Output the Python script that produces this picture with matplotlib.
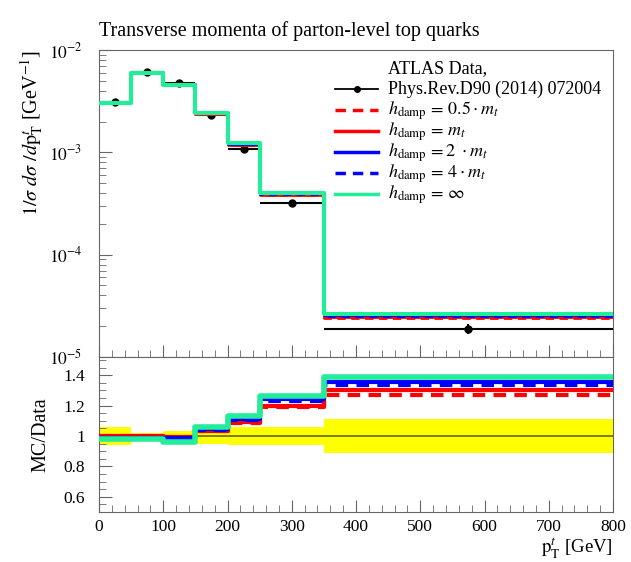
import numpy as np
import matplotlib
matplotlib.use('Agg')
import matplotlib.pyplot as plt
from matplotlib.ticker import MultipleLocator, LogLocator, FuncFormatter, NullFormatter, FixedLocator
from matplotlib.lines import Line2D
from matplotlib.transforms import offset_copy

# ---------------- data ----------------
edges = [0, 50, 100, 150, 200, 250, 350, 800]
data = [3.12e-3, 6.05e-3, 4.72e-3, 2.3e-3, 1.08e-3, 3.2e-4, 1.88e-5]
data_relerr = [0.06, 0.02, 0.036, 0.05, 0.06, 0.06, 0.11]

ratio_h05 = [1.00, 1.00, 0.995, 1.030, 1.085, 1.190, 1.267]
ratio_h1 = [1.00, 1.00, 0.995, 1.033, 1.092, 1.197, 1.300]
ratio_h2 = [0.99, 0.99, 0.985, 1.045, 1.113, 1.245, 1.354]
ratio_h4 = [0.99, 0.99, 0.980, 1.042, 1.108, 1.232, 1.336]
ratio_hinf = [0.978, 0.982, 0.960, 1.059, 1.130, 1.262, 1.390]

series = [
    (r'$h_{\mathrm{damp}}\, =\, 0.5 \cdot m_t$', ratio_h05, 'red', '--', 2.0),
    (r'$h_{\mathrm{damp}}\, =\, m_t$', ratio_h1, 'red', '-', 2.0),
    (r'$h_{\mathrm{damp}}\, =2\ \cdot m_t$', ratio_h2, 'blue', '-', 2.0),
    (r'$h_{\mathrm{damp}}\, =\, 4 \cdot m_t$', ratio_h4, 'blue', '--', 2.0),
    (r'$h_{\mathrm{damp}}\, =\, \infty$', ratio_hinf, '#22ee99', '-', 3.0),
]

title = 'Transverse momenta of parton-level top quarks'
data_label_1 = 'ATLAS Data,'
data_label_2 = 'Phys.Rev.D90 (2014) 072004'

# ---------------- style ----------------
plt.rcParams['font.family'] = ['Liberation Serif', 'DejaVu Serif']
plt.rcParams['mathtext.fontset'] = 'stix'
plt.rcParams['font.size'] = 12
spine_col = '#666666'

fig = plt.figure(figsize=(6.31, 5.62), dpi=100)
W, H = 631.0, 562.0
left, right = 99 / W, 613 / W
ax = fig.add_axes([left, 1 - 357 / H, right - left, (357 - 50) / H])
axr = fig.add_axes([left, 1 - 512 / H, right - left, (512 - 357) / H])

edges_a = np.array(edges)
centers = 0.5 * (edges_a[1:] + edges_a[:-1])
halfw = 0.5 * (edges_a[1:] - edges_a[:-1])
data_a = np.array(data)

def step_vals(v):
    return np.append(v, v[-1])

# main panel
ax.errorbar(centers, data_a, xerr=halfw, yerr=data_a * np.array(data_relerr),
            fmt='o', color='black', ms=5, lw=1.5, capsize=0, zorder=2)
for lab, r, c, ls, lw in series:
    mc = data_a * np.array(r)
    ax.step(edges_a, step_vals(mc), where='post', color=c, ls=ls, lw=lw,
            zorder=3 if lw < 2.5 else 4, dashes=(3, 2) if ls == '--' else (None, None))

ax.set_yscale('log')
ax.set_xlim(0, 800)
ax.set_ylim(1e-5, 1e-2)
ax.xaxis.set_major_locator(MultipleLocator(100))
ax.xaxis.set_minor_locator(MultipleLocator(20))
ax.tick_params(axis='x', which='both', labelbottom=False, direction='in', top=False)
ax.tick_params(axis='x', which='major', length=9, color=spine_col)
ax.tick_params(axis='x', which='minor', length=5, color=spine_col)
ax.yaxis.set_major_locator(LogLocator(base=10, numticks=10))
ax.yaxis.set_minor_locator(LogLocator(base=10, subs=np.arange(2, 10), numticks=20))
ax.yaxis.set_minor_formatter(NullFormatter())
ax.yaxis.set_major_formatter(FuncFormatter(lambda v, p: r'$10^{%d}$' % int(round(np.log10(v)))))
ax.tick_params(axis='y', which='major', direction='in', length=9, color=spine_col, pad=12, labelsize=12.5)
ax.tick_params(axis='y', which='minor', direction='in', length=5, color=spine_col)
for s in ax.spines.values():
    s.set_color(spine_col)
ax.set_title(title, loc='left', fontsize=14.5, pad=10)
ax.set_ylabel(r'$1/\sigma\ d\sigma\ /d\mathrm{p}_{\mathrm{T}}^{t}$ [GeV$^{-1}$]', fontsize=14.5, ha='right')
ax.yaxis.set_label_coords(-0.104, 1.0)

# legend (rows laid out at uniform spacing, like the reference)
row_h = 21.0 / 307.0           # row spacing in axes fraction
y0 = 1 - 18.0 / 307.0          # first row centre
hx0, hx1, tx = 0.459, 0.543, 0.562
base_off = -5.0                # text baseline offset (px) below row centre
def row_text(i, s):
    y = y0 - i * row_h
    t = offset_copy(ax.transAxes, fig=fig, x=0, y=base_off * 72 / 100, units='points')
    ax.text(tx, y, s, transform=t, fontsize=13, ha='left', va='baseline')
    return y

row_text(0, data_label_1)
y = row_text(1, data_label_2)
ax.add_line(Line2D([hx0, hx1], [y, y], transform=ax.transAxes, color='black', lw=1.3))
ax.add_line(Line2D([(hx0 + hx1) / 2], [y], transform=ax.transAxes, color='black', marker='o', ms=4))
for i, (lab, r, c, ls, lw) in enumerate(series):
    y = row_text(i + 2, lab)
    ax.add_line(Line2D([hx0, hx1], [y, y], transform=ax.transAxes, color=c, lw=2.5,
                       ls=ls, dashes=(3, 2) if ls == '--' else (None, None)))

# ratio panel
rel = np.array(data_relerr)
axr.fill_between(edges_a, step_vals(1 - rel), step_vals(1 + rel), step='post',
                 color='yellow', lw=0, zorder=1)
axr.axhline(1.0, color='#666600', lw=1.2, zorder=2)
for lab, r, c, ls, lw in series:
    axr.step(edges_a, step_vals(np.array(r)), where='post', color=c, ls=ls, lw=lw + 1,
             zorder=3 if lw < 2.5 else 4, dashes=(3, 2) if ls == '--' else (None, None))
axr.set_xlim(0, 800)
axr.set_ylim(0.5, 1.52)
axr.xaxis.set_major_locator(MultipleLocator(100))
axr.xaxis.set_minor_locator(MultipleLocator(20))
axr.yaxis.set_major_locator(FixedLocator([0.6, 0.8, 1.0, 1.2, 1.4]))
axr.yaxis.set_minor_locator(MultipleLocator(0.05))
axr.yaxis.set_major_formatter(FuncFormatter(lambda v, p: ('%g' % round(v, 2))))
axr.tick_params(axis='both', which='major', direction='in', length=9, color=spine_col, labelsize=12.5)
axr.tick_params(axis='both', which='minor', direction='in', length=5, color=spine_col)
axr.tick_params(axis='y', which='major', pad=10)
axr.tick_params(axis='x', which='major', pad=5)
for s in axr.spines.values():
    s.set_color(spine_col)
axr.set_ylabel('MC/Data', fontsize=14.5)
axr.yaxis.set_label_coords(-0.095, 0.5)
axr.set_xlabel(r'$\mathrm{p}_{\mathrm{T}}^{t}$ [GeV]', fontsize=13.5, ha='right', x=1.0, labelpad=0)

fig.savefig('out.png', dpi=100)
